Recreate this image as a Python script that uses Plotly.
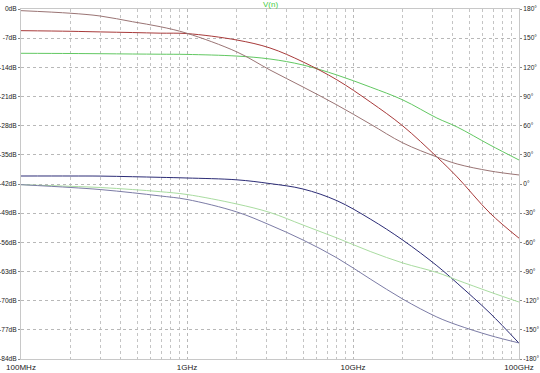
import plotly.graph_objects as go

# frequency points (GHz)
freq_ghz = [0.1, 0.2, 0.3, 0.47, 0.69, 1.0, 2.0, 3.16, 5.0, 8.0, 12.7, 20, 32, 42.4, 66.9, 100]

# magnitudes (dB, left axis)
red_mag = [-5.2, -5.35, -5.5, -5.65, -5.8, -5.9, -7.45, -9.35, -12.7, -17.0, -22.3, -28.1, -35.5, -40.3, -49.0, -55.0]
green_mag = [-10.63, -10.68, -10.73, -10.8, -10.85, -10.9, -11.3, -12.0, -13.44, -15.84, -18.72, -21.84, -26.16, -28.32, -32.64, -36.24]
blue_mag = [-40.08, -40.08, -40.1, -40.25, -40.4, -40.56, -41.0, -41.9, -43.2, -46.0, -50.4, -55.5, -61.6, -65.8, -73.0, -80.2]

# phases (degrees, right axis)
red_phase = [178.3, 175.6, 172.8, 166.9, 161.8, 155.0, 135.8, 117.3, 99.8, 81.3, 61.7, 42.2, 27.8, 20.6, 13.4, 9.3]
green_phase = [-0.7, -2.4, -3.6, -5.7, -7.9, -10.8, -20.6, -29.3, -42.2, -55.5, -69.4, -81.3, -91.0, -98.8, -111.1, -121.4]
blue_phase = [-0.7, -3.6, -5.7, -9.0, -12.3, -15.9, -28.8, -42.2, -57.6, -76.0, -97.7, -118.5, -136.8, -145.0, -155.8, -163.5]

db_ticks = [0, -7, -14, -21, -28, -35, -42, -49, -56, -63, -70, -77, -84]
deg_ticks = [180, 150, 120, 90, 60, 30, 0, -30, -60, -90, -120, -150, -180]
x_tickvals = [1e8, 1e9, 1e10, 1e11]
x_ticktext = ["100MHz", "1GHz", "10GHz", "100GHz"]

freq_hz = [f * 1e9 for f in freq_ghz]
minor_vals = [m * d for d in (1e8, 1e9, 1e10) for m in range(2, 10)]

fig = go.Figure()

def add(y, color, axis, width=1.0):
    fig.add_trace(go.Scatter(x=freq_hz, y=y, mode="lines", yaxis=axis,
                             line=dict(color=color, width=width, shape="spline", smoothing=1.0),
                             showlegend=False, hoverinfo="skip"))

add(red_phase, "#9a7474", "y2")
add(green_phase, "#a9dca0", "y2")
add(blue_phase, "#7c7ca6", "y2")
add(green_mag, "#62c862", "y")
add(red_mag, "#a83a3a", "y")
add(blue_mag, "#2c2c76", "y")

font = dict(family="Liberation Sans, Arial, sans-serif", size=8, color="#222222")

fig.update_layout(
    width=540, height=373,
    margin=dict(l=21, r=21, t=9, b=14, autoexpand=False),
    paper_bgcolor="white", plot_bgcolor="white",
    font=font,
    xaxis=dict(type="log", range=[8, 11], tickvals=x_tickvals, ticktext=x_ticktext,
               automargin=False,
               showgrid=True, gridcolor="#b8b8b8", griddash="dot", gridwidth=1,
               minor=dict(tickvals=minor_vals, showgrid=True, gridcolor="#c4c4c4", griddash="dot", gridwidth=1),
               showline=True, linecolor="#c8c8c8", linewidth=1, mirror=True,
               ticks="", ticklabelstandoff=0, zeroline=False, tickfont=dict(size=8)),
    yaxis=dict(range=[-84, 0], tickvals=db_ticks, ticktext=[f"{v}dB" for v in db_ticks],
               automargin=False,
               showgrid=True, gridcolor="#b8b8b8", griddash="dot", gridwidth=1,
               showline=True, linecolor="#c8c8c8", linewidth=1, mirror=True,
               ticks="outside", ticklen=2, tickcolor="#888888", ticklabelstandoff=0,
               zeroline=False, tickfont=dict(size=6.6)),
    yaxis2=dict(range=[-180, 180], tickvals=deg_ticks, ticktext=[f"{v}°" for v in deg_ticks],
                automargin=False,
                overlaying="y", side="right", showgrid=False, zeroline=False,
                showline=True, linecolor="#c8c8c8", linewidth=1,
                ticks="outside", ticklen=2, tickcolor="#888888", ticklabelstandoff=0,
                tickfont=dict(size=6.6)),
    annotations=[dict(text="V(n)", xref="paper", yref="paper", x=0.5, y=1.0,
                      xanchor="center", yanchor="bottom", yshift=-2, showarrow=False,
                      font=dict(size=8, color="#44cc44"))],
)

fig.write_html("out.html", config={"displayModeBar": False},
               post_script="document.body.style.margin='0';document.body.style.overflow='hidden';")
